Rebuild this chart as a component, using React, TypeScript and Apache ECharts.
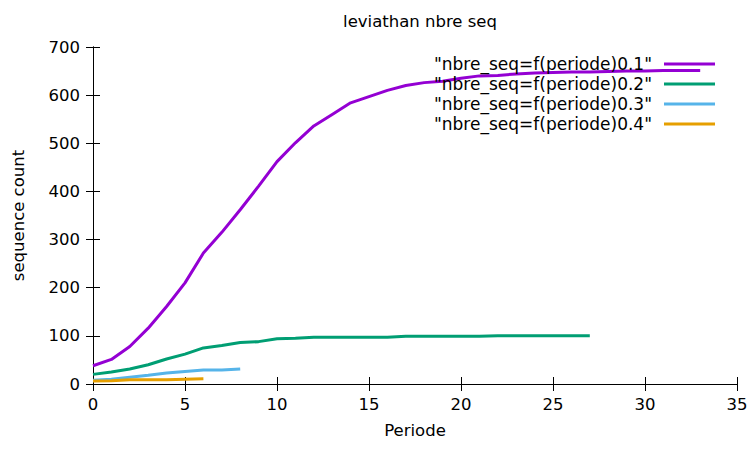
import React, { useEffect, useRef } from "react";
import * as echarts from "echarts";

const chartTitle = "leviathan nbre seq";
const xName = "Periode";
const yName = "sequence count";

const seriesNames = [
  '"nbre_seq=f(periode)0.1"',
  '"nbre_seq=f(periode)0.2"',
  '"nbre_seq=f(periode)0.3"',
  '"nbre_seq=f(periode)0.4"',
];
const seriesColors = ["#9400d3", "#009e73", "#56b4e9", "#e69f00"];

// values for periode = 0, 1, 2, ...
const seq01 = [38, 51, 78, 116, 161, 210, 272, 315, 362, 411, 462, 501, 536, 560, 584, 597, 610, 620, 626, 629, 635, 640, 641, 644, 646, 647, 648, 648, 649, 650, 650, 651, 651, 651];
const seq02 = [20, 25, 31, 40, 52, 62, 75, 80, 86, 88, 94, 95, 97, 97, 97, 97, 97, 99, 99, 99, 99, 99, 100, 100, 100, 100, 100, 100];
const seq03 = [8, 10, 14, 18, 23, 26, 29, 29, 31];
const seq04 = [6, 7, 9, 9, 9, 10, 11];

const FONT = "DejaVu Sans";
const FS = 16.5;

export default function App() {
  const ref = useRef<HTMLDivElement>(null);
  useEffect(() => {
    if (!ref.current) return;
    const chart = echarts.init(ref.current, undefined, { renderer: "svg" });
    const all = [seq01, seq02, seq03, seq04];
    const axisCommon = {
      axisLine: { show: true, lineStyle: { color: "#000", width: 1 } },
      axisTick: { show: true, inside: true, length: 7, lineStyle: { color: "#000", width: 1 } },
      splitLine: { show: false },
    };
    chart.setOption({
      animation: false,
      backgroundColor: "#fff",
      title: {
        text: chartTitle,
        left: 415,
        top: 8,
        textAlign: "center",
        textStyle: { fontFamily: FONT, fontSize: FS, fontWeight: "normal", color: "#000" },
      },
      legend: {
        orient: "vertical",
        right: 38,
        top: 54,
        align: "right",
        padding: 0,
        itemGap: 0,
        icon: "rect",
        itemWidth: 51,
        itemHeight: 3,
        data: seriesNames,
        textStyle: { fontFamily: FONT, fontSize: 17, color: "#000", lineHeight: 20, padding: [0, 7, 0, 0] },
      },
      grid: { left: 93, right: 16, top: 47, bottom: 65, containLabel: false },
      xAxis: [
        {
          type: "value",
          min: 0,
          max: 35,
          interval: 5,
          position: "bottom",
          name: xName,
          nameLocation: "middle",
          nameGap: 38,
          nameTextStyle: { fontFamily: FONT, fontSize: FS, color: "#000" },
          axisLabel: { fontFamily: FONT, fontSize: FS, color: "#000", margin: 12 },
          ...axisCommon,
        },
        {
          type: "value",
          min: 0,
          max: 35,
          interval: 5,
          position: "top",
          axisLabel: { show: false },
          ...axisCommon,
        },
      ],
      yAxis: [
        {
          type: "value",
          min: 0,
          max: 700,
          interval: 100,
          position: "left",
          name: yName,
          nameLocation: "middle",
          nameGap: 66,
          nameTextStyle: { fontFamily: FONT, fontSize: FS, color: "#000" },
          axisLabel: { fontFamily: FONT, fontSize: FS, color: "#000", margin: 13 },
          ...axisCommon,
        },
        {
          type: "value",
          min: 0,
          max: 700,
          interval: 100,
          position: "right",
          axisLabel: { show: false },
          ...axisCommon,
        },
      ],
      series: all.map((arr, i) => ({
        name: seriesNames[i],
        type: "line",
        xAxisIndex: 0,
        yAxisIndex: 0,
        symbol: "none",
        data: arr.map((v, k) => [k, v]),
        itemStyle: { color: seriesColors[i] },
        lineStyle: { color: seriesColors[i], width: 3 },
      })),
    });
    return () => chart.dispose();
  }, []);
  return (
    <div
      ref={ref}
      style={{ position: "fixed", left: 0, top: 0, width: 753, height: 449, background: "#fff" }}
    />
  );
}
